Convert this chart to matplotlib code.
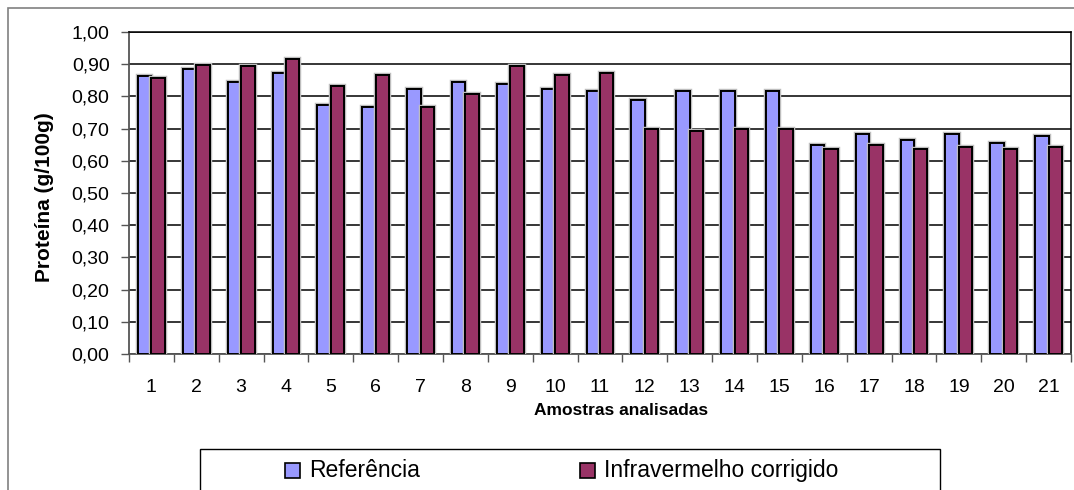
import matplotlib.pyplot as plt
import matplotlib.patheffects as pe
from matplotlib.patches import Rectangle
import numpy as np

plt.rcParams['font.family'] = ['Liberation Sans', 'DejaVu Sans']

amostras = [str(i) for i in range(1, 22)]
referencia = [0.862, 0.884, 0.846, 0.873, 0.773, 0.767, 0.823, 0.846, 0.839, 0.822, 0.816,
              0.790, 0.816, 0.816, 0.816, 0.648, 0.683, 0.666, 0.683, 0.656, 0.677]
infravermelho = [0.857, 0.898, 0.895, 0.915, 0.832, 0.868, 0.767, 0.808, 0.895, 0.868, 0.872,
                 0.700, 0.693, 0.700, 0.700, 0.638, 0.648, 0.638, 0.643, 0.638, 0.643]
yticks = [0.0, 0.1, 0.2, 0.3, 0.4, 0.5, 0.6, 0.7, 0.8, 0.9, 1.0]

W, H = 1074, 490
fig = plt.figure(figsize=(W / 100, H / 100), dpi=100)

# moldura externa do gráfico
fig.patches.append(Rectangle((8 / W, -0.1), 1.2, 1 - 8 / H + 0.1, transform=fig.transFigure,
                             fill=False, edgecolor='#808080', linewidth=1.2))

ax = fig.add_axes([129 / W, 1 - 354 / H, (1071 - 129) / W, (354 - 32) / H])

x = np.arange(len(amostras))
larg = 0.3
sombra = [pe.withStroke(linewidth=3.2, foreground='#bdbdbd'), pe.Normal()]
b1 = ax.bar(x - larg / 2, referencia, larg, color='#9999FF', edgecolor='black', linewidth=1.4,
            label='Referência', zorder=3)
b2 = ax.bar(x + larg / 2, infravermelho, larg, color='#993366', edgecolor='black', linewidth=1.4,
            label='Infravermelho corrigido', zorder=3)
for b in list(b1) + list(b2):
    b.set_path_effects(sombra)

ax.set_xlim(-0.5, len(amostras) - 0.5)
ax.set_ylim(0, 1.0)
ax.set_yticks(yticks)
ax.set_yticklabels([f'{v:.2f}'.replace('.', ',') for v in yticks], fontsize=14)
ax.yaxis.grid(True, color='black', linewidth=1.1, zorder=0)

# marcas entre grupos, rótulos no centro de cada amostra
ax.set_xticks(np.arange(len(amostras) + 1) - 0.5)
ax.set_xticklabels([])
ax.set_xticks(x, minor=True)
ax.set_xticklabels(amostras, minor=True, fontsize=14)
ax.tick_params(axis='x', which='major', length=6, width=1, color='#555555', direction='out')
ax.tick_params(axis='x', which='minor', length=0, pad=18)
ax.tick_params(axis='y', length=6, width=1, color='#555555', pad=8)

for s in ['top', 'right']:
    ax.spines[s].set_color('black')
    ax.spines[s].set_linewidth(1.1)
ax.spines['left'].set_color('#555555')
ax.spines['bottom'].set_color('#555555')
ax.spines['left'].set_linewidth(1.3)
ax.spines['bottom'].set_linewidth(1.3)

fig.text(45 / W, 1 - 197 / H, 'Proteína (g/100g)', rotation=90, ha='center', va='center',
         fontsize=15, fontweight='bold')
fig.text(621 / W, 1 - 410 / H, 'Amostras analisadas', ha='center', va='center',
         fontsize=12.5, fontweight='bold')

# caixa da legenda
fig.patches.append(Rectangle((200 / W, -0.1), 740 / W, 0.1 + 1 - 449 / H, transform=fig.transFigure,
                             fill=False, edgecolor='black', linewidth=1.0))
for px, cor, txt in [(285, '#9999FF', 'Referência'), (580, '#993366', 'Infravermelho corrigido')]:
    fig.patches.append(Rectangle((px / W, 1 - 478 / H), 15 / W, 15 / H, transform=fig.transFigure,
                                 facecolor=cor, edgecolor='black', linewidth=1.2))
    fig.text((px + 24) / W, 1 - 470 / H, txt, ha='left', va='center', fontsize=16.5)

fig.savefig('out.png', dpi=100)
